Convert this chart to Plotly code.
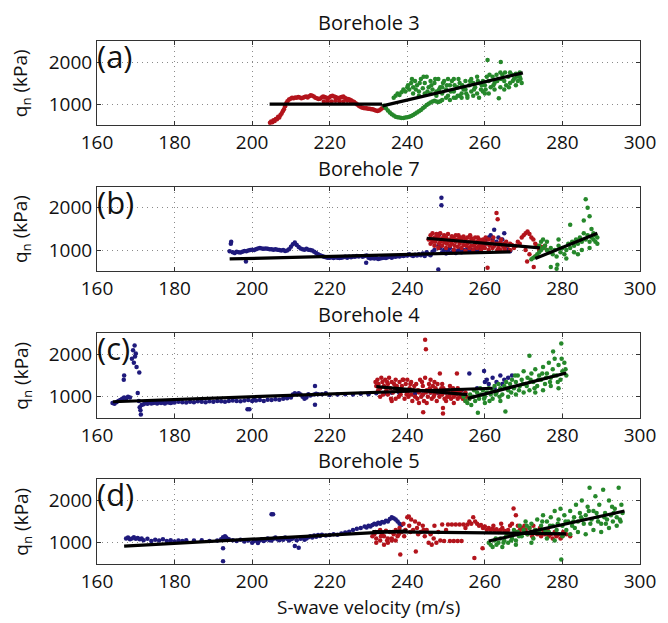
import plotly.graph_objects as go

# ---------------- data (S-wave velocity m/s, q_n kPa) ----------------
TITLES = ["Borehole 3", "Borehole 7", "Borehole 4", "Borehole 5"]
LABELS = ["(a)", "(b)", "(c)", "(d)"]
X_TICKS = [160, 180, 200, 220, 240, 260, 280, 300]
Y_TICKS = [1000, 2000]

A_RED = [(204.6,560),(204.9,590),(205.2,570),(205.5,620),(205.8,600),(206.1,650),(206.4,640),(206.7,700),(207.0,680),(207.3,740),(207.6,780),(207.9,830),(208.2,880),(208.5,950),(208.8,1020),(209.1,1070),(209.5,1110),(209.9,1130),(210.3,1150),(210.7,1140),(211.1,1160),(211.5,1150),(211.9,1170),(212.3,1160),(212.7,1140),(213.1,1150),(213.5,1170),(213.9,1180),(214.3,1160),(214.7,1190),(215.1,1210),(215.5,1200),(215.9,1180),(216.3,1150),(216.7,1140),(217.1,1120),(217.5,1130),(217.9,1160),(218.3,1180),(218.7,1170),(219.1,1150),(219.5,1140),(219.9,1160),(220.3,1190),(220.7,1200),(221.1,1180),(221.5,1170),(221.9,1150),(222.3,1140),(222.7,1160),(223.1,1170),(223.5,1180),(223.9,1150),(224.3,1130),(224.7,1120),(225.1,1110),(225.5,1090),(225.9,1070),(226.3,1050),(226.7,1020),(227.1,990),(227.5,960),(227.9,940),(228.3,920),(228.7,910),(229.1,900),(229.5,900),(229.9,890),(230.3,890),(230.7,880),(231.1,880),(231.5,860),(231.9,850),(232.3,840),(232.7,850),(233.1,870),(233.5,900),
         (218.5,1060),(219.5,1070),(220.5,1060),(221.5,1080),(222.5,1070),(223.5,1060),(224.5,1080),(225.5,1050)]
A_GREEN = [(234.0,960),(234.5,900),(235.0,850),(235.5,800),(236.0,760),(236.5,730),(237.0,700),(237.5,690),(238.0,680),(238.5,670),(239.0,670),(239.5,680),(240.0,690),(240.5,700),(241.0,720),(241.5,740),(242.0,770),(242.5,800),(243.0,830),(243.5,860),(244.0,900),(244.5,940),(245.0,980),(245.5,1010),(246.0,1040),(246.5,1060),(247.0,1080),(247.5,1060),(248.0,1050),(248.5,1070),(249.0,1100),
           (236.5,1150),(237.0,1200),(237.5,1250),(238.0,1220),(238.5,1280),(239.0,1350),(239.5,1300),(240.0,1400),(240.5,1350),(241.0,1500),(241.5,1400),(242.0,1550),(242.5,1450),(243.0,1300),(243.5,1600),(244.0,1380),(244.5,1500),(245.0,1650),(245.5,1400),(246.0,1550),(246.5,1350),(247.0,1500),(247.5,1300),(248.0,1600),(248.5,1400),(249.0,1250),(249.5,1550),(250.0,1350),(250.5,1200),(251.0,1450),(251.5,1550),(252.0,1300),(252.5,1150),(253.0,1400),(253.5,1500),(254.0,1250),(254.5,1350),(255.0,1550),(255.5,1200),(256.0,1450),(256.5,1300),(257.0,1500),(257.5,1400),(258.0,1250),(258.5,1500),(259.0,1350),(259.5,1550),(260.0,1450),(260.5,1650),(261.0,1550),(261.5,1400),(260.7,2050),(262.0,1650),(262.5,1500),(263.0,1700),(263.5,1600),(263.6,1140),(264.1,2000),(264.0,1400),(264.5,1700),(265.0,1550),(265.5,1450),(266.0,1650),(266.5,1500),(267.0,1700),(267.5,1600),(268.0,1720),(268.5,1550),(269.0,1650),(269.5,1500),
           (241.5,1250),(243.0,1200),(244.5,1250),(246.0,1250),(247.5,1200),(249.0,1400),(250.5,1600),(252.0,1600),(253.5,1200),(255.0,1350),(256.5,1600),(258.0,1650),(259.5,1300),(261.0,1250),(262.5,1350),(264.0,1750),(265.0,1350),(266.5,1750),(268.0,1450),(269.0,1750),(250.0,1150),(251.0,1100),(252.0,1150),(253.0,1200),(254.0,1150),(255.5,1150),(257.0,1200),(258.5,1150),(260.0,1250),
           (240.2,1450),(241.2,1600),(242.2,1350),(243.2,1500),(244.2,1650),(245.2,1300),(246.2,1450),(247.2,1600),(248.2,1350),(249.2,1500),(250.2,1450),(251.2,1300),(252.2,1450),(253.2,1600),(254.2,1450),(255.2,1250),(256.2,1550),(257.2,1350),(258.2,1550),(259.2,1450),(260.2,1350),(261.2,1700),(262.2,1450),(263.2,1550),(264.2,1600),(265.2,1750),(266.2,1400),(267.2,1550),(268.2,1650),(269.2,1600)]
A_FITS = [((204.5, 233.5), (1000, 1000)), ((233.6, 269.8), (960, 1742))]

B_BLUE = [(194.2,970),(194.6,1200),(194.5,1150),(195.0,950),(195.5,930),(196.0,960),(196.5,950),(197.0,940),(197.5,960),(198.0,980),(198.4,730),(198.5,970),(199.0,990),(199.5,1000),(200.0,1010),(200.5,1000),(201.0,1020),(201.5,1040),(202.0,1050),(202.5,1040),(203.0,1030),(203.5,1040),(204.0,1030),(204.5,1020),(205.0,1020),(205.5,1010),(206.0,1020),(206.5,1010),(207.0,1000),(207.5,990),(208.0,1000),(208.5,980),(209.0,990),(209.5,1020),(210.0,1080),(210.5,1140),(211.0,1180),(211.5,1120),(212.0,1070),(212.5,1040),(213.0,1020),(213.5,1010),(214.0,1030),(214.5,1010),(215.0,1000),(215.5,990),(216.0,960),(216.5,930),(217.0,900),(217.5,880),(218.0,860),(218.5,840),(219.0,830),(219.5,820),(220.0,820),(220.5,830),(221.0,810),(221.5,830),(222.0,820),(222.5,810),(223.0,820),(223.5,830),(224.0,840),(224.5,820),(225.0,840),(225.5,830),(226.0,850),(226.5,840),(227.0,860),(227.5,850),(229.4,700),(228.5,840),(229.0,860),(229.5,870),(230.0,820),(230.5,800),(231.0,810),(231.5,800),(232.0,810),(232.5,790),(233.0,800),(233.5,810),(234.0,820),(234.5,810),(235.0,830),(235.5,840),(236.0,820),(236.5,850),(237.0,840),(237.5,860),(238.0,850),(238.5,870),(239.0,860),(239.5,880),(240.0,870),(240.5,900),(241.0,880),(241.5,860),(242.0,890),(242.5,870),(243.0,900),(243.5,880),(244.0,920),(244.5,860),(245.0,950),(245.5,900),(246.0,880),(246.5,960),(247.0,1000),(247.5,1300),(248.0,1350),(248.3,1380),(248.0,1100),(248.8,2240),(248.8,2060),(248.0,540),(248.5,1050),(249.0,950),(249.5,1000),(250.0,920),(250.5,980),(251.0,1050),(251.5,950),(252.0,1000),(252.5,930),(253.0,980),(253.5,1020),(254.0,950),(254.5,1000),(255.0,970),(255.5,1040),(256.0,960),(256.5,1000),(257.0,980),(257.5,1020),(258.0,990),(258.5,1050),(259.0,1000),(259.5,1060),(260.0,1150),(260.5,1250),(261.0,1300),(261.5,1350),(262.0,1250),(262.4,1480),(263.0,1200),(263.5,1300),(264.0,1150),(264.5,1250),(265.0,1400),(265.5,1100),(266.0,1000),(266.5,970)]
B_RED = [(245.5,1250),(246.0,1350),(246.0,1150),(246.5,1400),(246.5,1200),(247.0,1300),(247.0,1100),(247.5,1380),(247.5,1250),(248.0,1320),(248.0,1050),(248.5,1400),(248.5,1200),(249.0,1280),(249.0,1100),(249.5,1350),(249.5,1180),(250.0,1300),(250.0,1050),(250.5,1380),(250.5,1220),(251.0,1250),(251.0,1100),(251.5,1330),(251.5,1150),(252.0,1280),(252.0,1000),(252.5,1350),(252.5,1200),(253.0,1250),(253.0,1080),(253.5,1300),(253.5,1150),(254.0,1220),(254.0,1050),(254.5,1320),(254.5,1120),(255.0,1250),(255.0,980),(255.5,1300),(255.5,1150),(256.0,1200),(256.0,1050),(256.5,1280),(256.5,1100),(257.0,1220),(257.0,1000),(257.5,1300),(257.5,1150),(258.0,1200),(258.0,1050),(258.5,1250),(258.5,1100),(259.0,1180),(259.0,1000),(259.5,1250),(259.5,1100),(260.0,1200),(260.0,1050),(260.7,580),(260.5,1150),(261.0,1250),(261.0,1000),(261.5,1150),(262.0,1200),(262.0,1050),(262.5,1100),(263.0,1880),(263.3,1730),(263.0,1150),(263.5,1050),(264.0,1180),(264.0,1000),(264.5,1100),(265.0,1150),(265.0,1050),(265.5,1200),(266.0,1100),(266.5,1150),(266.5,1000),(267.0,1120),(267.5,1050),(268.0,1100),(268.5,1200),(269.0,1150),(269.5,1300),(270.0,1350),(270.5,1400),(271.0,1440),(271.5,1380),(272.0,1300),(272.5,1250),(273.0,1150),(273.5,1100),(270.5,1000),(270.9,730),(271.5,900),(272.6,600),(273.0,850),(274.0,1000),(274.5,1080),(275.0,1050),(275.5,1100),(276.0,1000),
         (246.2,1250),(247.2,1200),(248.2,1150),(249.2,1250),(250.2,1150),(251.2,1200),(252.2,1100),(253.2,1350),(254.2,1300),(255.2,1100),(256.2,1350),(257.2,1100),(258.2,1300),(259.2,1050),(260.2,1300),(261.2,1100),(262.2,1300),(263.2,1000),(264.2,1250),(265.2,1000)]
B_GREEN = [(272.0,780),(272.5,820),(273.0,850),(273.5,900),(274.0,950),(274.5,1000),(275.0,1050),(275.5,1100),(276.0,1000),(276.5,950),(277.0,1050),(277.0,600),(277.5,900),(278.0,1000),(278.5,850),(279.0,1100),(279.5,950),(280.0,1050),(280.5,900),(281.0,1000),(281.5,1150),(282.0,1050),(282.5,1200),(283.0,1100),(283.5,1250),(284.0,1150),(284.5,1300),(285.0,1200),(285.5,1400),(285.5,1700),(286.0,1250),(286.0,2200),(286.5,1350),(286.5,2000),(287.0,1200),(287.0,1800),(287.5,1300),(287.5,1500),(288.0,1250),(288.0,1400),(288.5,1200),(288.5,1350),(289.0,1300),(289.0,1150),(276.0,1200),(275.0,1250),(274.5,1200),(274.0,1100),(279.0,1250),(281.0,800),(284.0,900),(283.0,950),(285.0,1000),(287.0,1050),(282.0,1600),(278.5,560),(278.7,650)]
B_FITS = [((194.2, 266.6), (790, 960)), ((245.0, 274.2), (1280, 1050)), ((273.0, 289.0), (800, 1400))]

C_BLUE = [(164.0,850),(164.5,830),(165.0,870),(165.5,900),(166.0,920),(166.5,950),(167.0,980),(166.9,1400),(167.0,1500),(167.5,950),(168.0,1000),(168.5,980),(169.0,1900),(169.3,2100),(169.7,2210),(170.0,2020),(169.5,1800),(169.8,1950),(170.2,1700),(170.9,1570),(170.5,1085),(170.8,900),(171.0,750),(171.3,580),(171.2,680),(171.5,800),(172.0,820),(172.5,850),(173.0,830),(173.5,860),(174.0,840),(174.5,850),(175.0,860),(175.5,840),(176.0,870),(176.5,850),(177.0,860),(177.5,840),(178.0,870),(178.5,860),(179.0,850),(179.5,870),(180.0,860),(181.0,880),(182.0,870),(183.0,860),(184.0,880),(185.0,870),(186.0,890),(187.0,880),(188.0,870),(189.0,890),(190.0,880),(191.0,900),(192.0,890),(193.0,880),(194.0,900),(195.0,910),(196.0,900),(197.0,890),(198.0,910),(198.8,700),(199.3,700),(199.0,920),(200.0,900),(200.5,930),(201.0,910),(202.0,920),(203.0,900),(204.0,930),(205.0,920),(206.0,940),(207.0,930),(208.0,950),(209.0,960),(210.0,980),(210.5,1050),(211.0,1080),(211.5,1060),(212.0,1080),(212.5,1050),(213.0,1000),(213.5,950),(214.0,980),(214.5,1060),(215.0,1030),(216.2,1250),(216.2,810),(216.0,1050),(216.5,1070),(217.0,1060),(218.0,1060),(219.0,1080),(220.0,1040),(222.0,1050),(224.0,1060),(226.0,1050),(228.0,1070),(230.0,1060),(232.0,1080),(234.0,1070),(236.0,1090),(238.0,1080),(240.0,1100),(242.0,1070),(244.0,1050),(246.0,1100),(248.0,1080),(250.0,1100),(252.0,1120),(254.0,1150),(256.0,1550),(258.0,1200),(259.8,1610),(260.0,1350),(260.5,1400),(261.0,1300),(262.0,1450),(263.0,1350),(264.0,1500),(265.0,1400),(266.0,1450),(267.0,1500),(262.5,1200),(264.5,1300)]
C_RED = [(231.8,1350),(232.0,1250),(232.3,1400),(232.6,1300),(233.0,1200),(233.3,1450),(233.6,1350),(234.0,1250),(234.3,1400),(234.6,1150),(235.0,1300),(235.3,1450),(235.6,1200),(236.0,1350),(236.3,1100),(236.6,1300),(237.0,1400),(237.3,1250),(237.6,1150),(238.0,1350),(238.3,1050),(238.6,1250),(239.0,1150),(239.3,950),(239.6,1300),(240.0,1100),(240.3,1000),(240.6,1200),(241.0,1050),(241.3,900),(241.6,1150),(242.0,1000),(242.3,1300),(242.6,950),(243.0,1100),(243.3,1400),(243.6,1000),(244.0,1250),(244.3,900),(244.6,1450),(244.6,2350),(244.8,2120),(244.1,630),(245.0,1150),(245.3,1000),(245.6,1300),(246.0,1100),(246.3,950),(246.6,1250),(247.0,1050),(247.3,1200),(247.6,900),(248.0,1100),(248.4,1550),(248.3,1000),(248.6,1150),(249.0,1050),(249.2,730),(249.2,600),(249.3,1200),(249.6,950),(250.0,1100),(250.3,1000),(250.6,1150),(251.0,1050),(251.3,950),(251.6,1100),(252.0,1000),(252.3,1150),(252.8,1550),(252.6,1050),(253.0,950),(253.3,1100),(253.6,1000),(254.0,1050),(254.3,950),(254.6,1000),(255.0,900),(255.3,1000),(256.0,950),
         (233.0,1000),(235.0,1050),(237.0,950),(239.0,1400),(241.0,1350),(243.0,850),(245.0,850),(247.0,1350),(249.0,1300),(251.0,1250),(253.0,1200),(255.0,1100),(236.0,900),(240.0,1400),(244.0,1050),(246.0,1400),(250.0,900),(252.0,850),
         (232.5,1150),(233.8,1050),(234.8,1350),(235.8,950),(236.8,1200),(237.8,1000),(238.8,1400),(239.8,1050),(240.8,1300),(241.8,1250),(242.8,1150),(243.8,1350),(244.8,1100),(245.8,1200),(246.8,1000),(247.8,1300),(248.8,1200),(249.8,1150),(250.8,1000),(251.8,1200),(252.8,1100),(253.8,1150),(254.8,1050)]
C_GREEN = [(254.5,1000),(255.0,900),(255.5,850),(256.0,950),(256.5,800),(257.0,1000),(257.5,900),(258.0,1100),(258.2,620),(258.5,950),(259.0,1050),(259.5,1150),(260.0,1000),(260.5,1100),(261.0,1200),(261.5,1050),(262.0,1150),(262.5,1250),(263.0,1100),(263.5,1300),(264.0,1200),(264.5,1050),(265.0,1250),(265.3,650),(265.5,1350),(266.0,1150),(266.5,1300),(267.0,1400),(267.5,1200),(268.0,1350),(268.5,1500),(269.0,1250),(269.5,1400),(270.0,1600),(270.5,1300),(271.0,1450),(271.5,1970),(271.5,1150),(272.0,1550),(272.5,1350),(273.0,1650),(273.5,1250),(274.0,1500),(274.5,1400),(275.0,1700),(275.5,1300),(276.0,1550),(276.5,1800),(277.0,1450),(277.6,2070),(277.5,1650),(278.0,1900),(278.5,1500),(279.0,1750),(279.7,2260),(279.5,1400),(280.0,1600),(280.5,1800),(281.0,1500),(270,1100),(268,1050),(273,1100),(275,1150),(277,1250),(279,1200),(262,950),(264,900),(266,1000),(260,850),
           (256.2,1050),(257.2,1150),(258.8,1200),(259.8,950),(261.2,900),(262.8,1050),(263.8,1000),(265.8,1200),(266.8,1100),(267.8,1500),(268.8,1150),(269.8,1300),(270.8,1250),(271.8,1400),(272.8,1200),(273.8,1400),(274.8,1550),(275.8,1450),(276.8,1350),(277.8,1500),(278.8,1350),(279.8,1900),(280.8,1650)]
C_FITS = [((164.1, 262.0), (880, 1200)), ((232.0, 255.5), (1240, 1050)), ((255.6, 281.0), (960, 1560))]

D_BLUE = [(167.5,1100),(168.0,1120),(168.5,1080),(169.0,1100),(169.5,1130),(170.0,1090),(170.5,1110),(171.0,1080),(171.5,1100),(172.0,1060),(173.0,1090),(174.0,1040),(175.0,1070),(176.0,1050),(177.0,1080),(178.0,1040),(179.0,1060),(180.0,1030),(181.0,1050),(182.0,1040),(183.0,1060),(185.0,1050),(187.0,1060),(189.0,1040),(191.0,1050),(192.0,1080),(192.5,1130),(192.8,1100),(193.0,1150),(193.3,1120),(193.6,1090),(192.5,870),(192.5,560),(194.0,1080),(195.0,1060),(196.0,1040),(197.0,1070),(198.0,1030),(199.0,1050),(200.0,1000),(200.5,1040),(201.0,1060),(201.5,990),(202.0,1050),(202.5,1080),(203.0,1040),(203.5,1070),(204.0,1100),(204.5,1060),(205.0,1670),(205.4,1670),(205.0,1050),(205.5,1090),(206.0,1120),(206.5,1080),(207.0,1060),(207.5,1100),(208.0,1070),(208.5,1120),(209.0,1090),(209.5,1050),(210.0,1080),(210.5,1100),(211.0,920),(211.5,1060),(212.0,880),(212.5,1090),(213.0,1120),(213.5,1070),(214.0,1100),(214.5,1130),(215.0,1150),(215.5,1120),(216.0,1170),(216.5,1140),(217.0,1180),(217.5,1160),(218.0,1190),(219.0,1170),(220.0,1180),(221.0,1200),(222.0,1190),(223.0,1220),(224.0,1240),(225.0,1260),(226.0,1300),(227.0,1330),(228.0,1350),(229.0,1380),(229.5,1360),(230.0,1400),(230.5,1380),(231.0,1420),(231.5,1450),(232.0,1430),(232.5,1470),(233.0,1450),(233.5,1490),(234.0,1480),(234.5,1520),(235.0,1500),(235.5,1560),(236.0,1600),(236.5,1580),(237.0,1550),(237.5,1500),(238.0,1450),(238.5,1420)]
D_RED = [(231.0,1150),(231.5,1200),(232.0,1100),(232.5,1250),(233.0,1050),(233.5,1200),(234.0,1150),(234.5,1280),(235.0,1100),(235.5,1250),(236.0,1050),(236.5,1200),(237.0,1300),(237.5,1150),(238.0,1350),(238.2,720),(238.5,1250),(239.0,1450),(239.5,1300),(240.0,1600),(240.4,1620),(240.5,1400),(241.0,1550),(241.5,1300),(242.0,1500),(242.2,790),(242.5,1350),(243.0,1450),(243.5,1250),(244.0,1400),(244.5,1150),(245.0,1300),(245.5,1000),(246.0,1200),(246.3,950),(246.8,1100),(247.0,1400),(247.5,1000),(248.0,1250),(248.5,1050),(249.0,1430),(249.5,1040),(250.0,1300),(250.5,1430),(251.0,1040),(251.5,1430),(252.0,1040),(252.5,1430),(253.0,1040),(253.5,1430),(254.0,1040),(254.5,1430),(255.0,1350),(255.5,1430),(256.0,1500),(256.5,1450),(257.0,1600),(257.3,640),(257.5,1500),(258.0,1450),(258.5,1400),(259.0,1420),(259.4,870),(259.5,1350),(260.0,1380),(260.5,1300),(261.0,1350),(261.5,1300),(262.0,1330),(262.5,1280),(263.0,1320),(263.5,1250),(264.0,1300),(264.5,1350),(265.0,1280),(265.5,1250),(266.0,1300),(266.5,1400),(267.0,1450),(267.4,1810),(268.0,1650),(268.5,1400),(269.0,1300),(269.5,1350),(270.0,1250),(270.5,1300),(271.0,1200),(271.5,1350),(272.0,1250),(272.5,1400),(273.0,1300),(273.5,1200),(274.0,1250),(274.5,1150),(275.0,1300),(275.5,1200),(276.0,1250),(276.5,1150),(277.0,1200),(277.5,1100),(278.0,1250),(278.5,1150),(279.0,1200),(279.5,1100),(280.0,1150),(281.0,1200),(282.0,1150),
         (232.0,1000),(234.0,950),(236.0,1100),(233.0,1300),(235.0,1000),(237.0,1050),
         (231.8,1250),(233.2,1150),(234.8,1050),(236.2,1250),(237.8,1200),(239.2,1150),(240.8,1250),(242.8,1200),(244.2,1300),(262.2,1400),(264.2,1450),(266.2,1200),(268.2,1250),(270.2,1400),(272.2,1150),(274.2,1350),(276.2,1300),(278.2,1200),(280.2,1250)]
D_GREEN = [(261.0,1000),(261.5,950),(262.0,900),(262.5,1050),(263.0,950),(263.5,1000),(264.0,1100),(264.5,900),(265.0,1050),(265.5,1150),(266.0,1000),(266.5,1200),(267.0,1100),(267.5,1300),(268.0,1050),(268.5,1250),(269.0,1400),(269.5,1150),(270.0,1300),(270.5,1500),(271.0,1200),(271.5,1350),(272.0,1450),(272.5,1100),(273.0,1300),(273.5,1550),(274.0,1250),(274.5,1400),(275.0,1650),(275.5,1300),(276.0,1500),(276.5,1250),(277.0,1600),(277.5,1400),(278.0,1750),(278.5,1300),(279.0,1550),(279.5,1800),(279.7,600),(280.0,1400),(280.5,1650),(281.0,1300),(281.5,1500),(282.0,1750),(282.5,1400),(283.0,1600),(283.5,1900),(284.0,1500),(284.5,1700),(285.0,2000),(285.5,1450),(286.0,1650),(286.5,1850),(287.0,2300),(287.5,1550),(288.0,1750),(288.5,2100),(289.0,1600),(289.5,1900),(290.0,1450),(290.5,2250),(291.0,1700),(291.5,1550),(292.0,2000),(292.5,1650),(293.0,1500),(293.5,1800),(294.0,1600),(294.5,2300),(295.0,1500),(295.5,1700),(268,950),(272,1000),(276,1100),(280,1150),(284,1250),(288,1300),(292,1350),(286,1200),(290,1250),(294,1400),(282,1200),(278,1050),
           (262.8,1100),(264.8,1000),(266.8,1050),(268.8,1150),(270.8,1400),(272.8,1250),(274.8,1500),(276.8,1400),(278.8,1450),(280.8,1500),(282.8,1500),(284.8,1600),(286.8,1750),(288.8,1700),(290.8,1600),(292.8,1850),(294.8,1550),(283.2,1350),(285.2,1550),(287.2,1450),(289.2,1500),(291.2,1450),(293.2,1700),(295.2,1900)]
D_FITS = [((167.0, 240.0), (920, 1280)), ((231.0, 281.0), (1260, 1210)), ((261.0, 296.0), (1040, 1750))]

# ---------------- styling ----------------
RED, GREEN, BLUE = "#B3141C", "#26882B", "#1F1A7C"
FONT = "Open Sans"

panels = [
    ([(A_RED, RED), (A_GREEN, GREEN)], A_FITS),
    ([(B_BLUE, BLUE), (B_RED, RED), (B_GREEN, GREEN)], B_FITS),
    ([(C_BLUE, BLUE), (C_RED, RED), (C_GREEN, GREEN)], C_FITS),
    ([(D_BLUE, BLUE), (D_RED, RED), (D_GREEN, GREEN)], D_FITS),
]

W, H = 668, 623
ML, MR, MT, MB = 97, 20, 41, 59
PH = H - MT - MB
tops = [40.7, 186.7, 333.3, 479.3]
box_h = 84.5

fig = go.Figure()
layout = dict(
    width=W, height=H, margin=dict(l=ML, r=MR, t=MT, b=MB),
    paper_bgcolor="white", plot_bgcolor="white", showlegend=False,
    font=dict(family=FONT, size=19, color="#111"),
)
annotations = []
for i, (series, fits) in enumerate(panels):
    k = "" if i == 0 else str(i + 1)
    xa, ya = "x" + k, "y" + k
    for pts, col in series:
        xs = [p[0] for p in pts]
        ys = [p[1] for p in pts]
        fig.add_trace(go.Scatter(x=xs, y=ys, mode="markers", xaxis=xa, yaxis=ya,
                                 marker=dict(size=4.5, color=col, line=dict(width=0))))
    for fx, fy in fits:
        fig.add_trace(go.Scatter(x=list(fx), y=list(fy), mode="lines", xaxis=xa, yaxis=ya,
                                 line=dict(color="black", width=3.2)))
    top = tops[i]
    bot = top + box_h
    dom = [max(0.0, (H - MB - bot) / PH), min(1.0, (H - MB - top) / PH)]
    axcommon = dict(showline=True, linecolor="#333", linewidth=1, mirror="ticks",
                    ticks="inside", ticklen=4, tickcolor="#333",
                    showgrid=True, gridcolor="#8a8a8a", griddash="1px,4px", gridwidth=1,
                    zeroline=False, tickfont=dict(family=FONT, size=19, color="#111"))
    layout["xaxis" + k] = dict(range=[160, 300], tickvals=X_TICKS, anchor=ya,
                               domain=[0, 1], **axcommon)
    layout["yaxis" + k] = dict(range=[500, 2500], tickvals=Y_TICKS, anchor=xa,
                               domain=dom, **axcommon)
    annotations.append(dict(text=TITLES[i], xref="paper", yref="paper",
                            x=0.5, y=dom[1], yanchor="bottom", yshift=3,
                            showarrow=False, font=dict(family=FONT, size=20, color="#111")))
    annotations.append(dict(text=LABELS[i], xref=xa + " domain", yref=ya + " domain",
                            x=0.0, y=1.0, xanchor="left", yanchor="top", yshift=8, xshift=-2,
                            showarrow=False, font=dict(family=FONT, size=31, color="#111")))
    annotations.append(dict(text="q<sub>n</sub> (kPa)", xref="paper", yref="paper",
                            x=(20 - ML) / (W - ML - MR), y=(dom[0] + dom[1]) / 2,
                            xanchor="center", yanchor="middle", textangle=-90,
                            showarrow=False, font=dict(family=FONT, size=19, color="#111")))

annotations.append(dict(text="S-wave velocity (m/s)", xref="paper", yref="paper",
                        x=0.5, y=-(607 - (H - MB)) / PH, xanchor="center", yanchor="middle",
                        showarrow=False, font=dict(family=FONT, size=19, color="#111")))
layout["annotations"] = annotations
fig.update_layout(**layout)
fig.write_html("out.html", config={"displayModeBar": False, "staticPlot": True},
               post_script="document.body.style.margin='0';document.body.style.padding='0';")
